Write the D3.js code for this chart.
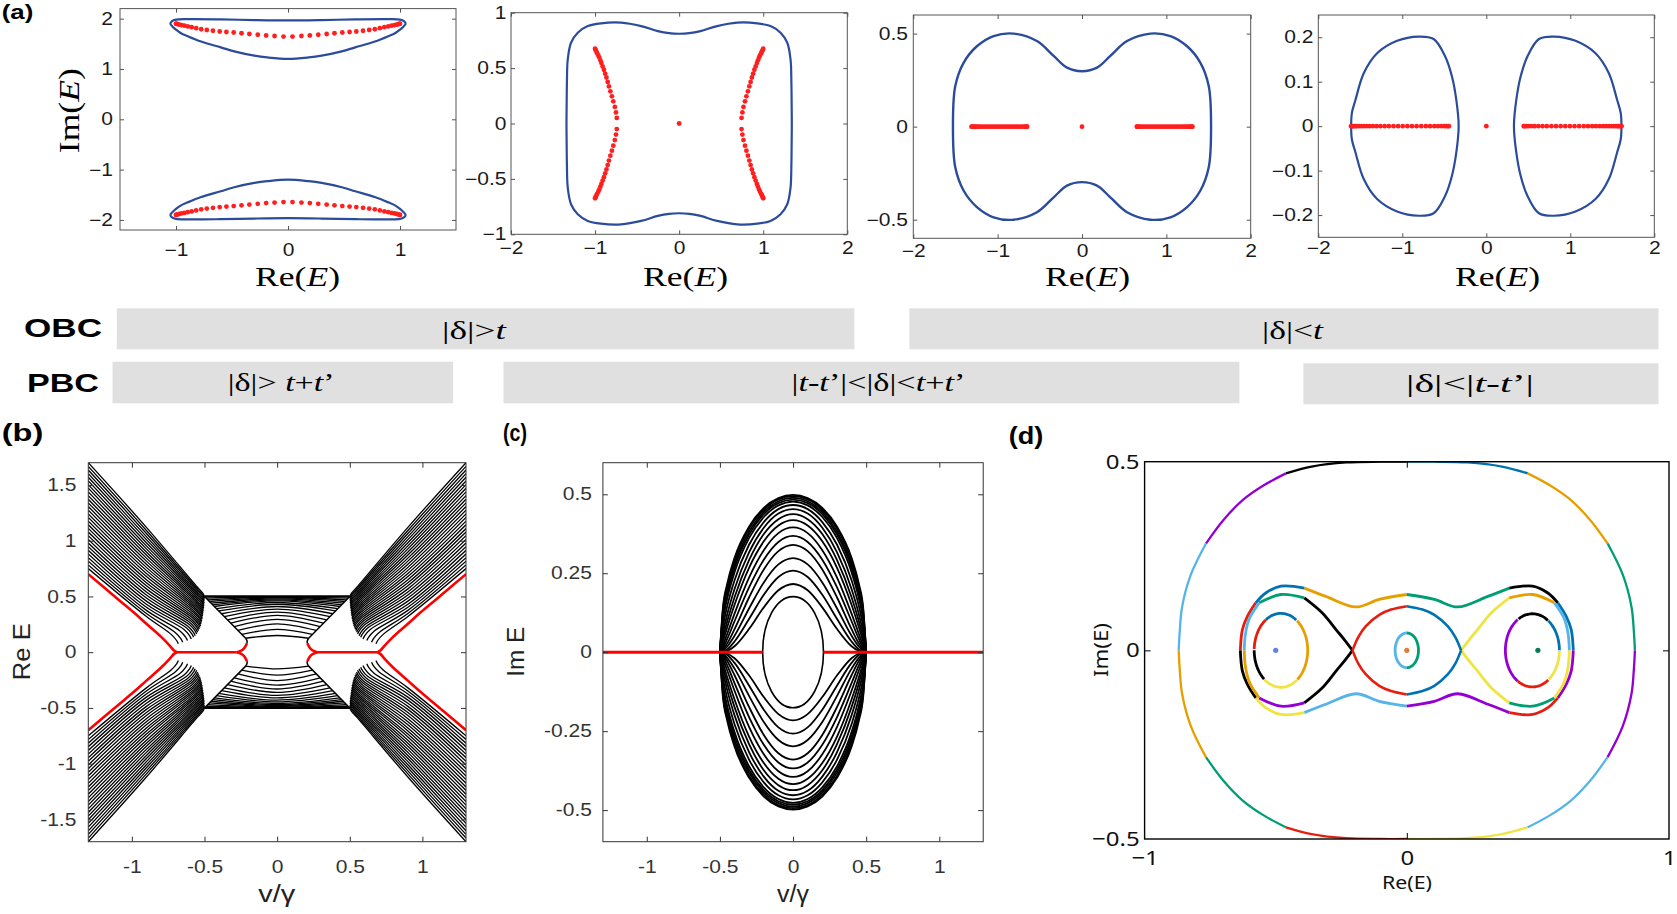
<!DOCTYPE html>
<html><head><meta charset="utf-8">
<script src="https://cdn.jsdelivr.net/npm/d3@7"></script>
<style>body{margin:0;background:#fff}svg{display:block}</style>
</head><body>
<svg id="c" width="1677" height="914"></svg>
<script>
// ================= DATA =================
// (a1) upper loop, left half: top edge and bottom edge (tip -> centre)
const a1LoopTop = [[-1.05,1.90],[-1.035,1.95],[-1.0,1.98],[-0.9,1.99],[-0.6,1.985],[-0.3,1.972],[0,1.965]];
const a1LoopBottom = [[-1.05,1.90],[-1.03,1.84],[-1.0,1.78],[-0.955,1.71],[-0.9,1.655],[-0.776,1.545],[-0.6,1.43],[-0.48,1.35],[-0.3,1.265],[-0.185,1.23],[0,1.20]];
const a1DotX = [-1.0,-0.995,-0.985,-0.97,-0.95,-0.925,-0.895,-0.86,-0.82,-0.775,-0.725,-0.67,-0.61,-0.55,-0.485,-0.415,-0.345,-0.27,-0.195,-0.12,-0.04];
const a1DotY = [1.90,1.895,1.89,1.88,1.87,1.86,1.845,1.83,1.81,1.79,1.775,1.76,1.745,1.735,1.725,1.71,1.695,1.68,1.665,1.655,1.645];
// (a2) closed curve, upper-left quadrant
const a2Quad = [[0,0.81],[-0.12,0.815],[-0.254,0.834],[-0.452,0.879],[-0.69,0.91],[-0.929,0.904],[-1.087,0.879],[-1.206,0.819],[-1.286,0.729],[-1.325,0.578],[-1.335,0.367],[-1.338,0.18],[-1.34,0]];
const a2DotY = [0.675,0.665,0.65,0.635,0.615,0.595,0.57,0.545,0.515,0.485,0.45,0.415,0.375,0.335,0.29,0.245,0.2,0.15,0.1,0.05];
const a2DotX = [-1.0,-0.995,-0.985,-0.975,-0.962,-0.95,-0.937,-0.925,-0.91,-0.895,-0.88,-0.865,-0.85,-0.835,-0.818,-0.80,-0.783,-0.765,-0.752,-0.742];
// (a3)
const a3Quad = [[0,0.298],[-0.178,0.317],[-0.336,0.38],[-0.534,0.46],[-0.811,0.5],[-1.048,0.487],[-1.246,0.432],[-1.404,0.343],[-1.503,0.217],[-1.53,0]];
const a3DotX = [-1.31,-1.30,-1.29,-1.275,-1.26,-1.24,-1.22,-1.2,-1.175,-1.15,-1.125,-1.1,-1.075,-1.05,-1.025,-1.0,-0.975,-0.95,-0.925,-0.9,-0.875,-0.85,-0.825,-0.8,-0.775,-0.75,-0.725,-0.7,-0.68,-0.665,-0.655,-0.65];
// (a4) left loop, upper half
const a4Half = [[-1.609,0],[-1.6,0.03],[-1.558,0.0587],[-1.459,0.119],[-1.3,0.164],[-1.062,0.192],[-0.805,0.2015],[-0.627,0.196],[-0.488,0.156],[-0.408,0.111],[-0.357,0.059],[-0.329,0]];
const a4DotX = [-1.61,-1.60,-1.59,-1.575,-1.56,-1.54,-1.515,-1.49,-1.46,-1.425,-1.39,-1.35,-1.305,-1.26,-1.21,-1.16,-1.105,-1.05,-0.995,-0.94,-0.885,-0.83,-0.775,-0.72,-0.67,-0.62,-0.575,-0.535,-0.5,-0.475,-0.455,-0.445];

// (b) upper-left band: value at left edge (x=-1.3), value at x=-0.9, end point (x,y)
const bBandStartY = [0.750,0.783,0.816,0.848,0.881,0.914,0.947,0.979,1.012,1.045,1.078,1.110,1.143,1.176,1.209,1.241,1.274,1.307,1.340,1.372,1.405,1.438,1.471,1.503,1.536,1.569,1.602,1.634,1.667,1.700];
const bBandMidY   = [0.320,0.348,0.375,0.403,0.430,0.458,0.486,0.513,0.541,0.568,0.596,0.623,0.651,0.679,0.706,0.734,0.761,0.789,0.817,0.844,0.872,0.899,0.927,0.954,0.982,1.010,1.037,1.065,1.092,1.120];
const bBandEndX   = [-0.680,-0.650,-0.617,-0.591,-0.575,-0.564,-0.554,-0.547,-0.541,-0.536,-0.531,-0.527,-0.524,-0.521,-0.519,-0.516,-0.515,-0.513,-0.511,-0.510,-0.508,-0.507,-0.505,-0.504,-0.503,-0.502,-0.502,-0.501,-0.500,-0.500];
const bBandEndY   = [0.075,0.090,0.104,0.119,0.134,0.148,0.163,0.178,0.192,0.207,0.222,0.236,0.251,0.266,0.280,0.295,0.310,0.324,0.339,0.354,0.368,0.383,0.397,0.412,0.427,0.441,0.456,0.471,0.485,0.500];
const bBandHook = [[-0.05,0.085],[-0.012,0.03]]; // approach to each end point
// (b) central arcs: [x end, y end, y centre]
const bCenterArcs = [[-0.50,0.50,0.50],[-0.488,0.485,0.497],[-0.477,0.47,0.493],[-0.466,0.455,0.487],[-0.455,0.44,0.479],[-0.443,0.425,0.47],[-0.432,0.41,0.46],[-0.417,0.39,0.446],[-0.402,0.37,0.43],[-0.383,0.345,0.41],[-0.364,0.32,0.387],[-0.341,0.29,0.36],[-0.319,0.26,0.33],[-0.296,0.23,0.295],[-0.27,0.195,0.255],[-0.243,0.16,0.205],[-0.217,0.125,0.15]];
const bDiagonal = [[-0.5,0.5],[-0.217,0.125]];
const bHookBlack = [[-0.217,0.125],[-0.207,0.1],[-0.208,0.08]];
const bHookRed = [[-0.208,0.08],[-0.222,0.045],[-0.24,0.02],[-0.265,0.004],[-0.28,0]];
const bRedDiag = [[-1.3,0.70],[-1.1,0.48],[-0.99,0.36],[-0.9,0.255],[-0.8,0.14],[-0.74,0.06],[-0.71,0.015],[-0.69,0]];
const bRedFlat = [[-0.69,0],[-0.28,0]];

// (c)
const cX = [0,0.1,0.2,0.3,0.4,0.45,0.48,0.5];
const cHeights = [
 [0.498,0.488,0.457,0.398,0.299,0.217,0.139,0],
 [0.494,0.484,0.451,0.392,0.290,0.208,0.131,0],
 [0.489,0.478,0.444,0.382,0.279,0.196,0.120,0],
 [0.483,0.472,0.437,0.373,0.267,0.184,0.110,0],
 [0.477,0.465,0.428,0.362,0.253,0.170,0.098,0],
 [0.466,0.453,0.412,0.341,0.228,0.146,0.078,0],
 [0.453,0.439,0.394,0.317,0.200,0.120,0.059,0],
 [0.437,0.421,0.374,0.292,0.174,0.098,0.044,0],
 [0.418,0.401,0.351,0.268,0.150,0.079,0.033,0],
 [0.395,0.377,0.323,0.237,0.122,0.058,0.021,0],
 [0.368,0.349,0.293,0.206,0.098,0.042,0.013,0],
 [0.340,0.320,0.262,0.174,0.073,0.028,0.0075,0],
 [0.298,0.278,0.221,0.139,0.052,0.018,0.004,0],
 [0.258,0.238,0.182,0.106,0.034,0.009,0.0015,0],
 [0.216,0.196,0.142,0.074,0.019,0.004,0.0004,0]
];
const cInnerEllipse = [0.208, 0.176];
const cRedLine = [[-1.3,0],[-0.208,0]];

// (d)
const dColors = {purple:"#9400D3",green:"#009E73",lblue:"#56B4E9",orange:"#E69F00",yellow:"#F0E442",blue:"#0072B2",red:"#E51E10",black:"#000000"};
const dQuadSigns = [[1,1],[-1,1],[1,-1],[-1,-1]]; // UL, UR, LL, LR
const dOuterQuad = [[0,0.5],[-0.1,0.5],[-0.231,0.498],[-0.363,0.487],[-0.461,0.469],[-0.544,0.438],[-0.626,0.398],[-0.70,0.345],[-0.766,0.283],[-0.824,0.2],[-0.857,0.115],[-0.866,0.05],[-0.87,0]];
const dOuterSegs = [[0,4],[4,8],[8,12]];
const dOuterColors = [["black","purple","lblue"],["blue","orange","green"],["red","green","orange"],["yellow","lblue","purple"]];
const dPeanutQuad = [[0,0.148],[-0.105,0.135],[-0.194,0.115],[-0.309,0.143],[-0.391,0.165],[-0.48,0.17],[-0.538,0.152],[-0.576,0.126],[-0.608,0.09],[-0.627,0.055],[-0.635,0]];
const dPeanutSegs = [[0,4],[4,7],[7,10]];
const dPeanutColors = [["orange","blue","red"],["green","black","blue"],["lblue","yellow","black"],["purple","red","purple"]];
const dLobeQuad = [[-0.207,0],[-0.24,0.03],[-0.27,0.055],[-0.322,0.099],[-0.391,0.139],[-0.48,0.148],[-0.563,0.126],[-0.6,0.085],[-0.615,0.045],[-0.62,0]];
const dLobeSegs = [[0,4],[4,6],[6,9]];
const dLobeColors = [["black","green","lblue"],["yellow","orange","lblue"],["black","purple","orange"],["yellow","green","yellow"]];
const dEyeQuad = [[0,0.117],[-0.06,0.108],[-0.105,0.094],[-0.156,0.064],[-0.185,0.035],[-0.207,0]];
const dEyeColors = ["red","blue","red","blue"];
const dEllipses = [[-0.48,0,0.102,0.098],[0,0,0.0445,0.046],[0.479,0,0.103,0.097]];
const dEllipseArcs = [
 [[124,180,"red"],[55,124,"blue"],[-52,55,"orange"],[-128,-52,"yellow"],[180,232,"black"]],
 [[90,270,"lblue"],[-90,90,"green"]],
 [[123,237,"purple"],[237,308,"red"],[308,360,"yellow"],[0,55,"blue"],[55,123,"black"]]
];
const dDots = [[-0.5,0,"#6a7fd8"],[0,0,"#e07b39"],[0.5,0,"#0a7a50"]];

// bars
const barLabels = [["OBC",63,337.3,78],["PBC",63,391.7,72]];
const barRects = [[116.8,854.4,308.3,349.3],[909.4,1658.5,308.3,349.3],[112.5,453.1,361.7,403.3],[503.5,1239.4,361.7,403.3],[1303.4,1658.5,363.3,404.3]];
const barTexts = [
 [[["|δ|>",0],["t",1]],474,339,64],
 [[["|δ|<",0],["t",1]],1292.5,339,61],
 [[["|δ|> ",0],["t",1],["+",0],["t",1],["’",0]],281.2,391,107],
 [[["|",0],["t",1],["-",0],["t",1],["’|<|δ|<",0],["t",1],["+",0],["t",1],["’",0]],878.5,391,174],
 [[["|δ|<|",0],["t",1],["-",0],["t",1],["’|",0]],1470,392,128]
];

// ================= DRAW =================
const svg = d3.select("#c");
const defs = svg.append("defs");
let clipN = 0;
const mir = (pts,sx,sy)=>pts.map(p=>[p[0]*sx,p[1]*sy]);

function makePanel(o){
  const x = d3.scaleLinear().domain(o.xd).range([o.L,o.R]);
  const y = d3.scaleLinear().domain(o.yd).range([o.B,o.T]);
  const id = "cp"+(clipN++);
  defs.append("clipPath").attr("id",id).append("rect").attr("x",o.L).attr("y",o.T).attr("width",o.R-o.L).attr("height",o.B-o.T);
  const g = svg.append("g");
  const plot = g.append("g").attr("clip-path",`url(#${id})`);
  const axG = g.append("g");
  const tl = o.tickLen;
  const xm = o.xMarks||o.xt, ym = o.yMarks||o.yt;
  const add=(gen,tx,ty)=>axG.append("g").attr("transform",`translate(${tx},${ty})`).call(gen);
  const st=(sel)=>{sel.select(".domain").remove();sel.selectAll(".tick line").attr("stroke",o.frame).attr("stroke-width",1);};
  st(add(d3.axisBottom(x).tickValues(xm).tickSizeInner(-tl).tickSizeOuter(0).tickFormat(""),0,o.B));
  st(add(d3.axisTop(x).tickValues(xm).tickSizeInner(-tl).tickSizeOuter(0).tickFormat(""),0,o.T));
  st(add(d3.axisLeft(y).tickValues(ym).tickSizeInner(-tl).tickSizeOuter(0).tickFormat(""),o.L,0));
  st(add(d3.axisRight(y).tickValues(ym).tickSizeInner(-tl).tickSizeOuter(0).tickFormat(""),o.R,0));
  const xl = add(d3.axisBottom(x).tickValues(o.xt).tickSize(0).tickPadding(o.xpad).tickFormat(o.fmt),0,o.B);
  xl.select(".domain").remove();
  xl.selectAll("text").attr("font-family",o.font).attr("font-size",o.fs).attr("fill",o.tc).attr("transform",`scale(${o.sx},1)`);
  const yl = add(d3.axisLeft(y).tickValues(o.yt).tickSize(0).tickPadding(0).tickFormat(o.fmt),o.L,0);
  yl.select(".domain").remove();
  yl.selectAll("text").attr("font-family",o.font).attr("font-size",o.fs).attr("fill",o.tc).attr("x",-o.ypad/o.sx).attr("transform",`scale(${o.sx},1)`);
  axG.append("rect").attr("x",o.L).attr("y",o.T).attr("width",o.R-o.L).attr("height",o.B-o.T).attr("fill","none").attr("stroke",o.frame).attr("stroke-width",o.fw||1);
  return {x,y,plot};
}

function fitText(o){
  const g = svg.append("g");
  const t = g.append("text").attr("font-family",o.font).attr("font-size",o.fs).attr("font-weight",o.weight||"normal").attr("text-anchor","middle").attr("fill",o.fill||"#000");
  o.parts.forEach(p=>t.append("tspan").text(p[0]).attr("font-style",p[1]?"italic":"normal"));
  const w = t.node().getComputedTextLength();
  const s = o.w ? o.w/w : 1;
  g.attr("transform",`translate(${o.x},${o.y})${o.rot?` rotate(${o.rot})`:""} scale(${s},1)`);
}

const fmtA = d => (d<0?"−":"")+Math.abs(d);
const fmtB = d => String(d);
const aBase = {xd:[-2,2],font:"Liberation Sans",fs:17.5,tc:"#1a1a1a",sx:1.2,frame:"#555",tickLen:4,fmt:fmtA};
const blue = "#2b4b9b", redDot = "#ff1f1f";

function closedQuad(q){
  const ll = mir(q,1,-1).reverse().slice(1);
  const lr = mir(q,-1,-1).slice(1);
  const ur = mir(q,-1,1).reverse().slice(1,-1);
  return [...q,...ll,...lr,...ur];
}
function drawClosed(P,pts,color,w){
  P.plot.append("path").attr("d",d3.line().x(d=>P.x(d[0])).y(d=>P.y(d[1])).curve(d3.curveCatmullRomClosed.alpha(0.5))(pts))
   .attr("fill","none").attr("stroke",color).attr("stroke-width",w);
}
function dots(P,pts,r,color){
  P.plot.selectAll(null).data(pts).enter().append("circle").attr("cx",d=>P.x(d[0])).attr("cy",d=>P.y(d[1])).attr("r",r).attr("fill",color);
}

// ---- a1
{
  const P = makePanel({...aBase,L:120,R:456,T:8.6,B:230,xd:[-1.5,1.5],yd:[-2.2,2.2],xt:[-1,0,1],yt:[-2,-1,0,1,2],xpad:14,ypad:7});
  const top=a1LoopTop, bot=a1LoopBottom;
  const loop=[...top,...mir(top,-1,1).reverse().slice(1),...mir(bot,-1,1).slice(1),...bot.slice().reverse().slice(1,-1)];
  drawClosed(P,loop,blue,2.2);
  drawClosed(P,mir(loop,1,-1),blue,2.2);
  const d=[];
  a1DotX.forEach((x,i)=>{const y=a1DotY[i];d.push([x,y],[-x,y],[x,-y],[-x,-y]);});
  dots(P,d,2.4,redDot);
}
// ---- a2
{
  const P = makePanel({...aBase,L:511,R:847.3,T:12.7,B:234.3,yd:[-1,1],xt:[-2,-1,0,1,2],yt:[-1,-0.5,0,0.5,1],xpad:7,ypad:4.5});
  drawClosed(P,closedQuad(a2Quad),blue,2.2);
  const d=[[0,0]];
  a2DotX.forEach((x,i)=>{const y=a2DotY[i];d.push([x,y],[-x,y],[x,-y],[-x,-y]);});
  dots(P,d,2.4,redDot);
}
// ---- a3
{
  const P = makePanel({...aBase,L:913.3,R:1250.7,T:15,B:238.3,yd:[-0.6,0.6],xt:[-2,-1,0,1,2],yt:[-0.5,0,0.5],xpad:6,ypad:5.3});
  drawClosed(P,closedQuad(a3Quad),blue,2.4);
  const d=[[0,0]];
  a3DotX.forEach(x=>{d.push([x,0],[-x,0]);});
  dots(P,d,2.4,redDot);
}
// ---- a4
{
  const P = makePanel({...aBase,L:1318.3,R:1654.3,T:15,B:237.3,yd:[-0.25,0.25],xt:[-2,-1,0,1,2],yt:[-0.2,-0.1,0,0.1,0.2],xpad:4.5,ypad:5});
  const loop=[...a4Half,...mir(a4Half,1,-1).reverse().slice(1,-1)];
  drawClosed(P,loop,blue,2.2);
  drawClosed(P,mir(loop,-1,1),blue,2.2);
  const d=[[0,0]];
  a4DotX.forEach(x=>{d.push([x,0],[-x,0]);});
  dots(P,d,2.4,redDot);
}
// a labels
[297.5,685.5,1087.5,1497.5].forEach(cx=>fitText({x:cx,y:286,w:85,font:"Liberation Serif",fs:28,parts:[["Re(",0],["E",1],[")",0]]}));
fitText({x:79,y:110.7,w:85,rot:-90,font:"Liberation Serif",fs:29,parts:[["Im(",0],["E",1],[")",0]]});

// ---- bars
barRects.forEach(r=>svg.append("rect").attr("x",r[0]).attr("y",r[2]).attr("width",r[1]-r[0]).attr("height",r[3]-r[2]).attr("fill","#e0e0e0"));
barLabels.forEach(b=>fitText({x:b[1],y:b[2],w:b[3],font:"Liberation Sans",fs:25,weight:"bold",parts:[[b[0],0]]}));
barTexts.forEach(b=>fitText({x:b[1],y:b[2],w:b[3],font:"Liberation Serif",fs:25,parts:b[0]}));

// ---- b
{
  const P = makePanel({L:88.3,R:466,T:462.7,B:841.7,xd:[-1.3,1.3],yd:[-1.7,1.7],xt:[-1,-0.5,0,0.5,1],yt:[-1.5,-1,-0.5,0,0.5,1,1.5],xpad:19,ypad:12,font:"Liberation Sans",fs:17.5,tc:"#333",sx:1.2,frame:"#333",tickLen:5,fmt:fmtB});
  const lc = d3.line().x(d=>P.x(d[0])).y(d=>P.y(d[1])).curve(d3.curveCatmullRom.alpha(0.5));
  const ln = d3.line().x(d=>P.x(d[0])).y(d=>P.y(d[1])).curve(d3.curveNatural);
  const blk = (d,w)=>P.plot.append("path").attr("d",d).attr("fill","none").attr("stroke","#000").attr("stroke-width",w||1.3);
  const bandCurves = bBandStartY.map((ys,i)=>{
    const xe=bBandEndX[i], ye=bBandEndY[i];
    return [[-1.3,ys],[-0.9,bBandMidY[i]],[xe+bBandHook[0][0],ye+bBandHook[0][1]],[xe+bBandHook[1][0],ye+bBandHook[1][1]],[xe,ye]];
  });
  dQuadSigns.forEach(([sx,sy])=>{
    bandCurves.forEach(c=>blk(lc(mir(c,sx,sy))));
    blk(lc(mir(bDiagonal,sx,sy)),1.5);
    blk(lc(mir(bHookBlack,sx,sy)),1.5);
  });
  [1,-1].forEach(sy=>{
    bCenterArcs.forEach(a=>blk(ln(mir([[a[0],a[1]],[0,a[2]],[-a[0],a[1]]],1,sy)), a[2]===0.5?2.2:1.3));
  });
  const red=(d)=>P.plot.append("path").attr("d",d).attr("fill","none").attr("stroke","#ff0000").attr("stroke-width",2.6);
  dQuadSigns.forEach(([sx,sy])=>{
    red(lc(mir(bRedDiag,sx,sy)));
    red(lc(mir(bHookRed,sx,sy)));
  });
  [1,-1].forEach(sx=>red(lc(mir(bRedFlat,sx,1))));
  fitText({x:29.5,y:651.7,w:57,rot:-90,font:"Liberation Sans",fs:24,fill:"#222",parts:[["Re E",0]]});
  fitText({x:276.7,y:902,w:37,font:"Liberation Sans",fs:24,fill:"#222",parts:[["v/γ",0]]});
}
// ---- c
{
  const P = makePanel({L:602.9,R:983.2,T:462.7,B:841.7,xd:[-1.3,1.3],yd:[-0.6,0.6],xt:[-1,-0.5,0,0.5,1],yt:[-0.5,-0.25,0,0.25,0.5],xpad:19,ypad:11,font:"Liberation Sans",fs:17.5,tc:"#333",sx:1.2,frame:"#333",tickLen:5,fmt:fmtB});
  const lm = d3.line().x(d=>P.x(d[0])).y(d=>P.y(d[1])).curve(d3.curveMonotoneX);
  [1,-1].forEach(sy=>{
    cHeights.forEach(row=>{
      const pts=[];
      for(let i=cX.length-1;i>0;i--) pts.push([-cX[i],row[i]*sy]);
      for(let i=0;i<cX.length;i++) pts.push([cX[i],row[i]*sy]);
      P.plot.append("path").attr("d",lm(pts)).attr("fill","none").attr("stroke","#000").attr("stroke-width",1.8);
    });
  });
  P.plot.append("ellipse").attr("cx",P.x(0)).attr("cy",P.y(0)).attr("rx",P.x(cInnerEllipse[0])-P.x(0)).attr("ry",P.y(0)-P.y(cInnerEllipse[1]))
    .attr("fill","none").attr("stroke","#000").attr("stroke-width",1.6);
  [1,-1].forEach(sx=>P.plot.append("path").attr("d",lm(mir(cRedLine,sx,1).sort((a,b)=>a[0]-b[0]))).attr("fill","none").attr("stroke","#ff0000").attr("stroke-width",3));
  fitText({x:524,y:651.7,w:50,rot:-90,font:"Liberation Sans",fs:24,fill:"#222",parts:[["Im E",0]]});
  fitText({x:792.9,y:902,w:32,font:"Liberation Sans",fs:24,fill:"#222",parts:[["v/γ",0]]});
}
// ---- d
{
  const P = makePanel({L:1144.6,R:1669,T:461.7,B:839,xd:[-1,1],yd:[-0.5,0.5],xt:[-1,0,1],yt:[-0.5,0,0.5],xMarks:[0],yMarks:[0],xpad:12,ypad:5,font:"Noto Sans",fs:20,tc:"#111",sx:1.2,frame:"#000",fw:1.4,tickLen:6,fmt:fmtA});
  const lc = d3.line().x(d=>P.x(d[0])).y(d=>P.y(d[1])).curve(d3.curveCatmullRom.alpha(0.5));
  const seg=(pts,c,w)=>P.plot.append("path").attr("d",lc(pts)).attr("fill","none").attr("stroke",dColors[c]).attr("stroke-width",w||2.4).attr("stroke-linecap","butt");
  const family=(quad,segs,cols,w)=>dQuadSigns.forEach(([sx,sy],qi)=>{
    const q=mir(quad,sx,sy);
    segs.forEach((s,si)=>seg(q.slice(s[0],s[1]+1),cols[qi][si],w));
  });
  family(dOuterQuad,dOuterSegs,dOuterColors,2.3);
  family(dPeanutQuad,dPeanutSegs,dPeanutColors,2.8);
  family(dLobeQuad,dLobeSegs,dLobeColors,2.8);
  dQuadSigns.forEach(([sx,sy],qi)=>seg(mir(dEyeQuad,sx,sy),dEyeColors[qi],2.6));
  dEllipses.forEach((e,ei)=>{
    dEllipseArcs[ei].forEach(([a0,a1,c])=>{
      const pts=[];
      for(let a=a0;a<=a1+0.001;a+=3){const r=a*Math.PI/180;pts.push([e[0]+e[2]*Math.cos(r),e[1]+e[3]*Math.sin(r)]);}
      seg(pts,c,2.8);
    });
  });
  dDots.forEach(d=>P.plot.append("circle").attr("cx",P.x(d[0])).attr("cy",P.y(d[1])).attr("r",2.6).attr("fill",d[2]));
  fitText({x:1407,y:889,w:50,font:"Noto Sans",fs:19,fill:"#111",parts:[["Re(E)",0]]});
  fitText({x:1108,y:650,w:54,rot:-90,font:"Noto Sans",fs:20,fill:"#111",parts:[["Im(E)",0]]});
}
// panel letters
fitText({x:17.5,y:19,w:31.6,font:"Liberation Sans",fs:20,weight:"bold",parts:[["(a)",0]]});
fitText({x:22.5,y:440.5,w:41.6,font:"Liberation Sans",fs:23,weight:"bold",parts:[["(b)",0]]});
fitText({x:515,y:440.5,w:24,font:"Liberation Sans",fs:23,weight:"bold",parts:[["(c)",0]]});
fitText({x:1026,y:444,w:34.6,font:"Liberation Sans",fs:23,weight:"bold",parts:[["(d)",0]]});
</script>
</body></html>
